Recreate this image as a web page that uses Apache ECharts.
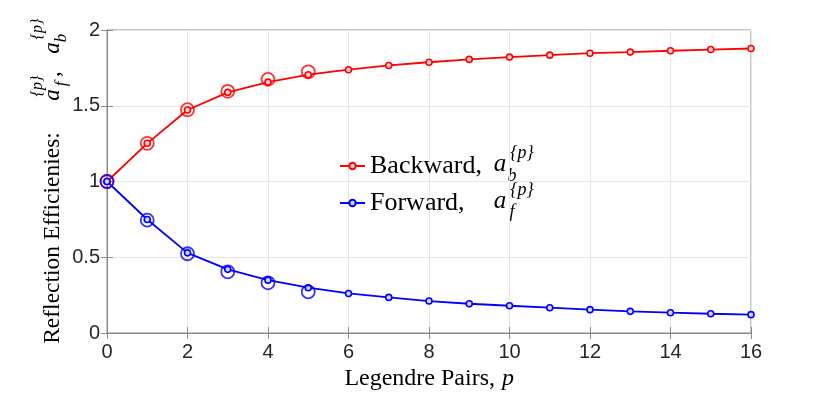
<!DOCTYPE html>
<html>
<head>
<meta charset="utf-8">
<script src="https://cdn.jsdelivr.net/npm/echarts@6/dist/echarts.min.js"></script>
<style>
  html, body { margin: 0; padding: 0; background: #fff; }
  #main { width: 830px; height: 395px; }
</style>
</head>
<body>
<div id="main"></div>
<script>
// Legendre pair index
const pairs = [0, 1, 2, 3, 4, 5, 6, 7, 8, 9, 10, 11, 12, 13, 14, 15, 16];
// reflection efficiencies (small markers + line)
const backward = [1.0, 1.252, 1.472, 1.588, 1.656, 1.705, 1.738, 1.766, 1.787, 1.806, 1.821, 1.834, 1.847, 1.854, 1.863, 1.871, 1.878];
const forward = [1.0, 0.749, 0.529, 0.42, 0.349, 0.299, 0.261, 0.235, 0.211, 0.193, 0.18, 0.167, 0.154, 0.143, 0.134, 0.127, 0.121];
// reference values, big open circles for p = 0..5
const refPairs = [0, 1, 2, 3, 4, 5];
const backwardRef = [1.0, 1.252, 1.474, 1.595, 1.674, 1.724];
const forwardRef = [1.0, 0.745, 0.523, 0.404, 0.331, 0.272];

const xTicks = { min: 0, max: 16, interval: 2 };
const yTicks = { min: 0, max: 2, interval: 0.5 };

const RED = '#ff0000';
const BLUE = '#0000ff';
const AXIS = '#8a8a8a';
const SERIF = 'Liberation Serif';
const SANS = 'Liberation Sans';

const zip = (xs, ys) => xs.map((x, i) => [x, ys[i]]);

function mathText(text, x, y, size, opts = {}) {
  return {
    type: 'text',
    x,
    y,
    rotation: opts.rotation || 0,
    silent: true,
    style: {
      text,
      fontFamily: SERIF,
      fontSize: size,
      fontStyle: opts.italic === false ? 'normal' : 'italic',
      fill: '#000',
      align: opts.align || 'center',
      verticalAlign: 'middle'
    }
  };
}

const R90 = Math.PI / 2;

const myChart = echarts.init(document.getElementById('main'), null, { renderer: 'canvas' });

myChart.setOption({
  animation: false,
  grid: {
    left: 107,
    right: 79,
    top: 30,
    bottom: 62,
    show: true,
    borderColor: AXIS,
    borderWidth: 1
  },
  legend: {
    orient: 'vertical',
    left: 334,
    top: 148,
    itemWidth: 25,
    itemHeight: 8,
    itemGap: 11,
    data: ['Backward,', 'Forward,'],
    textStyle: { fontFamily: SERIF, fontSize: 26, color: '#000' }
  },
  xAxis: [
    {
      type: 'value',
      ...xTicks,
      axisLine: { show: true, lineStyle: { color: AXIS, width: 1 } },
      axisTick: { show: true, inside: true, length: 6, lineStyle: { color: AXIS } },
      axisLabel: { fontFamily: SANS, fontSize: 20, color: '#262626', margin: 9 },
      splitLine: { show: true, lineStyle: { color: '#e6e6e6', width: 1 } }
    },
    {
      type: 'value',
      position: 'top',
      ...xTicks,
      axisLine: { show: true, lineStyle: { color: AXIS, width: 1 } },
      axisTick: { show: true, inside: true, length: 6, lineStyle: { color: AXIS } },
      axisLabel: { show: false },
      splitLine: { show: false }
    }
  ],
  yAxis: [
    {
      type: 'value',
      ...yTicks,
      axisLine: { show: true, lineStyle: { color: AXIS, width: 1 } },
      axisTick: { show: true, inside: true, length: 6, lineStyle: { color: AXIS } },
      axisLabel: { fontFamily: SANS, fontSize: 20, color: '#262626', margin: 7 },
      splitLine: { show: true, lineStyle: { color: '#e6e6e6', width: 1 } }
    },
    {
      type: 'value',
      position: 'right',
      ...yTicks,
      axisLine: { show: true, lineStyle: { color: AXIS, width: 1 } },
      axisTick: { show: true, inside: true, length: 6, lineStyle: { color: AXIS } },
      axisLabel: { show: false },
      splitLine: { show: false }
    }
  ],
  series: [
    {
      name: 'Backward,',
      type: 'line',
      data: zip(pairs, backward),
      symbol: 'circle',
      symbolSize: 6,
      showAllSymbol: true,
      lineStyle: { color: RED, width: 1.8 },
      itemStyle: { color: '#ffd6d6', borderColor: RED, borderWidth: 1.6 },
      z: 3
    },
    {
      name: 'Forward,',
      type: 'line',
      data: zip(pairs, forward),
      symbol: 'circle',
      symbolSize: 6,
      showAllSymbol: true,
      lineStyle: { color: BLUE, width: 1.8 },
      itemStyle: { color: '#d6d6ff', borderColor: BLUE, borderWidth: 1.6 },
      z: 3
    },
    {
      name: 'Backward ref',
      type: 'scatter',
      data: zip(refPairs, backwardRef),
      symbol: 'circle',
      symbolSize: 13,
      itemStyle: { color: 'rgba(0,0,0,0)', borderColor: RED, borderWidth: 1.8 },
      z: 4
    },
    {
      name: 'Forward ref',
      type: 'scatter',
      data: zip(refPairs, forwardRef),
      symbol: 'circle',
      symbolSize: 13,
      itemStyle: { color: 'rgba(0,0,0,0)', borderColor: BLUE, borderWidth: 1.8 },
      z: 5
    }
  ],
  graphic: [
    // x-axis title
    mathText('Legendre Pairs,', 495, 379, 24, { italic: false, align: 'right' }),
    mathText('p', 502, 379, 24, { align: 'left' }),
    // y-axis title, rotated
    mathText('Reflection Efficienies:', 53, 238, 23.5, { rotation: R90, italic: false }),
    mathText('a', 53, 95, 23, { rotation: R90 }),
    mathText('f', 62, 84, 17, { rotation: R90 }),
    mathText('{p}', 38, 86, 16, { rotation: R90 }),
    mathText(',', 53, 74, 23, { rotation: R90, italic: false }),
    mathText('a', 53, 48, 23, { rotation: R90 }),
    mathText('b', 62, 38, 17, { rotation: R90 }),
    mathText('{p}', 38, 29, 16, { rotation: R90 }),
    // legend math
    mathText('a', 500, 164.5, 25),
    mathText('b', 512, 176, 18),
    mathText('{p}', 522, 153, 18),
    mathText('a', 500, 201.5, 25),
    mathText('f', 512, 212, 18),
    mathText('{p}', 522, 190, 18)
  ]
});

window.addEventListener('resize', () => myChart.resize());
</script>
</body>
</html>
